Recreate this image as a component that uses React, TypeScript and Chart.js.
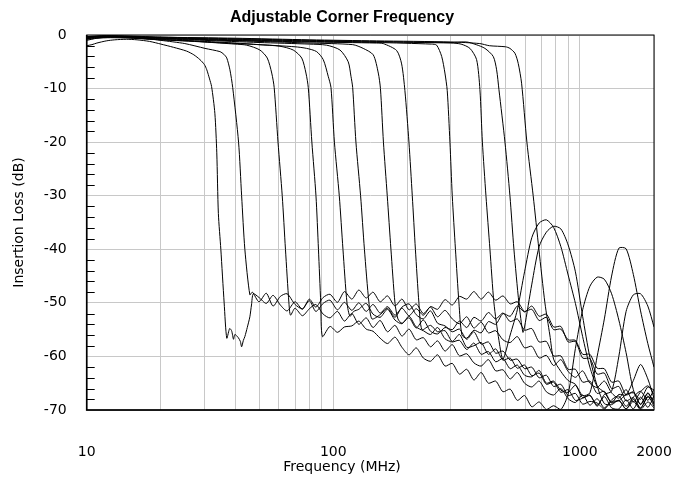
import React, { useEffect, useRef } from "react";
import { Chart, registerables } from "chart.js";

Chart.register(...registerables);

// ---------- data ----------
const xGridValues = [10, 20, 30, 40, 50, 60, 70, 80, 90, 100, 200, 300, 400, 500, 600, 700, 800, 900, 1000, 2000];
const xLabelValues = [10, 100, 1000, 2000];
const yMinorTicks = [-2, -4, -6, -8, -12, -14, -16, -18, -22, -24, -26, -28, -32, -34, -36, -38, -42, -44, -46, -48, -52, -54, -56, -58, -62, -64, -66, -68];

// shared stop-band frequency grid (MHz)
const freqGrid = [36, 38.5, 41, 44, 47, 50, 53.5, 57, 61, 65, 70, 75, 80, 85, 91, 97, 104, 111, 119, 127, 136, 145, 155, 166, 178, 190, 203, 217, 232, 248, 265, 284, 304, 325, 348, 372, 398, 426, 456, 488, 522, 558, 597, 639, 684, 732, 783, 838, 897, 960, 1027, 1099, 1176, 1258, 1346, 1440, 1541, 1649, 1764, 1888, 2000];

// pass band + transition of each filter setting: [MHz, dB]
const edge34: [number, number][] = [[10, -2.0], [10.5, -1.8], [11, -1.5], [12, -1.1], [13, -0.9], [14.5, -0.8], [16, -0.9], [18, -1.2], [20, -1.7], [22.5, -2.3], [25.4, -3.0], [27.2, -3.7], [28.8, -4.6], [30, -5.5], [30.7, -6.5], [31.5, -8.2], [32.1, -9.6], [33.1, -14.6], [33.7, -22], [34.2, -33.3], [35.0, -40], [36.1, -50], [37.0, -56.6], [38.0, -54.8], [38.7, -55.2], [39.4, -56.8], [39.9, -55.9], [41.2, -56.5], [42.0, -57.2], [42.5, -58.2], [43.2, -57.0], [43.8, -56.3], [44.8, -54.6], [45.9, -52.6], [46.6, -50.4], [47.4, -48.3]];
const edge42: [number, number][] = [[10, -1.0], [11, -0.6], [12, -0.4], [13.5, -0.3], [15, -0.5], [17.5, -0.7], [20, -1.0], [25, -1.6], [30.2, -2.5], [34.7, -3.1], [36, -3.6], [37, -4.3], [38.1, -6.5], [39.1, -9.8], [41.3, -20], [42.5, -30], [43.8, -40], [45.9, -48.5]];
const edge62: [number, number][] = [[10, -0.6], [11, -0.4], [12, -0.3], [14, -0.3], [16, -0.5], [20, -0.8], [25, -1.0], [30, -1.3], [40, -1.7], [44.6, -1.9], [50.4, -2.8], [54.0, -4.3], [56.3, -7.1], [57.6, -9.8], [59.7, -20], [62.1, -30], [64.0, -40], [66.1, -50], [67.1, -52.3]];
const edge85: [number, number][] = [[10, -0.4], [11.5, -0.2], [13, -0.3], [15, -0.5], [20, -0.9], [30, -1.2], [40, -1.5], [50, -1.8], [60.8, -2.1], [68.8, -2.8], [74.5, -4.3], [77.5, -7.1], [79.2, -9.8], [81.9, -20], [85.1, -30], [87.1, -40], [89.0, -50], [90.4, -56.3]];
const edge106: [number, number][] = [[10, -0.8], [11, -0.6], [12.5, -0.5], [15, -0.6], [20, -0.9], [30, -1.3], [50, -1.8], [70, -2.2], [78.0, -2.5], [85.6, -3.1], [91.1, -4.6], [95.4, -7.7], [97.9, -9.8], [101.1, -20], [105.8, -30], [109.5, -40], [113.7, -50], [116.9, -52.5], [121, -51.6]];
const edge129: [number, number][] = [[10, -0.5], [11, -0.3], [13, -0.4], [16, -0.5], [20, -0.7], [30, -1.0], [50, -1.4], [80, -1.7], [94.0, -1.9], [106.5, -2.8], [115.0, -5.0], [118.0, -7.7], [119.9, -9.8], [123.6, -20], [129.1, -30], [133.8, -40], [139.6, -50], [143.6, -53]];
const edge166: [number, number][] = [[10, -0.3], [12, -0.2], [14, -0.3], [20, -0.6], [30, -0.9], [50, -1.2], [80, -1.5], [120, -1.8], [132.3, -2.5], [145.3, -3.7], [152.3, -7.1], [155.4, -10], [159.8, -20], [165.6, -30], [171.4, -40], [178.0, -50], [183.0, -53]];
const edge209: [number, number][] = [[10, -0.7], [11, -0.5], [13, -0.4], [16, -0.5], [20, -0.6], [40, -1.0], [80, -1.3], [150, -1.5], [159.5, -1.6], [180.8, -2.9], [189.4, -5.4], [195.3, -10.4], [202.8, -20], [209.2, -30], [215.4, -40], [222.6, -50], [229.0, -55]];
const edge304: [number, number][] = [[10, -0.5], [11, -0.3], [12, -0.2], [15, -0.3], [20, -0.5], [40, -0.9], [80, -1.2], [150, -1.4], [250, -1.7], [262.7, -1.9], [275.3, -4], [283.8, -7.1], [290.0, -10.4], [297.4, -20], [303.9, -30], [313.1, -40], [323.5, -50], [332.7, -56]];
const edge416: [number, number][] = [[10, -0.6], [11, -0.4], [13, -0.3], [16, -0.4], [20, -0.5], [40, -0.8], [80, -1.1], [150, -1.3], [300, -1.5], [330, -1.7], [358.5, -2.5], [381.5, -4.6], [393.5, -10.2], [402.7, -20], [416.3, -30], [432.1, -40], [448.5, -50], [470.0, -57]];
const edge521: [number, number][] = [[10, -0.4], [11, -0.3], [13, -0.2], [16, -0.3], [20, -0.4], [40, -0.7], [80, -1.0], [150, -1.2], [300, -1.4], [347.5, -1.3], [380, -1.8], [412.4, -2.5], [445.6, -4], [459.9, -6.5], [470, -10.2], [497.2, -20], [520.8, -30], [540.6, -40], [566.3, -50], [587.9, -55.5]];
const edge647: [number, number][] = [[10, -0.3], [11, -0.2], [12, -0.1], [15, -0.2], [20, -0.4], [40, -0.6], [80, -0.9], [150, -1.1], [300, -1.3], [393, -1.6], [430, -2.0], [500, -2.2], [520.8, -2.5], [545.6, -3.4], [562.7, -5.3], [580.7, -9], [610.2, -20], [647.1, -30], [682.6, -40], [722, -50], [756, -56]];

// stop band of each setting, dB on the last points of freqGrid (ending at 2000 MHz)
const floor34 = [-49.0, -50.1, -48.6, -50.4, -51.5, -49.8, -51.2, -49.3, -50.8, -49.0, -48.4, -49.9, -47.9, -49.3, -47.6, -49.1, -48.0, -49.8, -48.7, -50.6, -49.3, -51.3, -50.2, -52.0, -50.8, -52.6, -51.4, -53.0, -53.9, -52.6, -54.7, -53.6, -55.6, -55.2, -56.9, -57.4, -56.3, -58.4, -58.1, -60.3, -59.8, -61.7, -60.6, -62.8, -63.9, -62.7, -65.0, -65.8, -64.6, -66.8, -67.8, -66.2, -68.5, -66.6, -65.5, -67.1];
const floor42 = [-48.0, -49.8, -48.2, -50.6, -48.8, -48.3, -50.3, -51.1, -49.6, -51.6, -50.1, -49.5, -51.3, -49.9, -51.4, -50.0, -51.6, -50.3, -51.9, -50.7, -52.3, -51.0, -52.4, -51.1, -52.3, -50.7, -51.2, -49.4, -50.4, -48.8, -49.3, -47.9, -49.3, -48.0, -49.5, -48.7, -50.2, -49.8, -51.6, -51.2, -53.3, -52.7, -55.0, -54.9, -56.9, -57.0, -59.6, -59.6, -62.2, -62.3, -64.8, -64.6, -67.2, -66.6, -69.0, -66.9, -68.9];
const floor62 = [-51.0, -52.4, -51.1, -50.3, -52.1, -52.8, -51.6, -53.4, -52.0, -54.0, -52.8, -54.6, -53.3, -55.4, -54.2, -56.2, -54.9, -56.9, -56.5, -58.2, -57.1, -59.0, -57.8, -59.9, -59.5, -61.2, -61.8, -60.6, -62.7, -62.5, -64.2, -63.0, -65.0, -65.7, -64.6, -66.6, -67.2, -66.0, -67.9, -68.6, -67.2, -69.1, -67.9, -69.6, -68.1, -67.4, -69.3, -67.6, -66.5, -68.2, -66.1];
const floor85 = [-54.4, -55.5, -54.5, -54.3, -53.4, -54.9, -55.3, -56.6, -57.6, -56.4, -58.3, -59.7, -58.4, -60.3, -60.9, -59.7, -61.8, -61.3, -63.3, -62.4, -64.4, -63.0, -65.0, -64.6, -66.6, -66.1, -68.2, -67.3, -69.4, -68.5, -69.9, -69.2, -69.9, -67.0, -58.5, -51.3, -46.9, -45.2, -45.6, -48.3, -53.2, -59.3, -66.2, -68.9, -66.8, -68.7];
const floor106 = [-51.2, -50.1, -52.1, -52.7, -51.2, -53.2, -53.9, -52.5, -54.5, -55.2, -55.9, -54.6, -56.7, -57.3, -57.0, -58.7, -57.5, -59.6, -59.1, -61.0, -60.4, -62.3, -61.6, -63.5, -63.8, -62.6, -65.0, -64.6, -66.3, -66.7, -65.4, -67.7, -67.3, -69.1, -67.5, -69.6, -69.8, -68.1, -69.8, -67.6, -69.5, -67.3];
const floor129 = [-52.2, -51.0, -52.7, -50.8, -50.2, -52.2, -53.0, -51.5, -53.8, -54.3, -55.4, -54.9, -56.8, -55.4, -57.7, -57.3, -59.4, -59.0, -60.7, -60.5, -62.3, -62.0, -64.0, -63.5, -65.6, -65.2, -67.3, -66.9, -68.9, -68.4, -68.7, -69.8, -68.4, -68.3, -67.1, -66.8, -68.0, -65.7, -66.3];
const floor166 = [-53.8, -52.8, -54.7, -53.2, -55.3, -55.8, -54.6, -55.0, -53.4, -54.6, -52.7, -53.4, -51.8, -53.0, -51.9, -53.5, -53.0, -55.1, -54.8, -57.3, -57.2, -59.9, -59.9, -62.4, -62.4, -64.8, -64.6, -66.9, -66.5, -68.7, -68.2, -69.8, -68.0, -69.7, -67.4, -69.3];
const floor209 = [-54.2, -55.4, -55.2, -57.2, -55.9, -58.3, -58.0, -57.4, -59.6, -58.6, -60.7, -60.3, -62.2, -61.6, -63.6, -63.1, -65.2, -64.8, -66.7, -66.2, -68.2, -67.8, -67.2, -69.3, -67.1, -66.5, -60.0, -51.6, -48.5, -48.3, -50.6, -54.5];
const floor304 = [-56.6, -55.1, -55.6, -53.5, -54.0, -52.0, -52.5, -50.6, -51.7, -50.6, -52.5, -52.1, -54.5, -54.4, -57.3, -57.2, -60.3, -60.4, -63.3, -63.1, -66.0, -65.6, -68.3, -67.7, -69.6, -67.6, -68.0];
const floor416 = [-60.5, -56.0, -51.3, -44.2, -37.8, -35.1, -34.5, -35.9, -39.5, -44.8, -50.1, -56.3, -62.0, -65.6, -66.7, -68.6, -67.1, -67.2, -64.5, -61.5, -64.2, -67.8];
const floor521 = [-54.5, -46.5, -39.5, -36.8, -35.7, -36.2, -39.2, -44.2, -52.5, -60.2, -65.5, -68.8, -69.0, -68.2, -69.8, -68.4, -69.9, -68.5, -69.6];
const floor647 = [-60.5, -62.8, -64.5, -65.2, -67.3, -66.8, -60.0, -53.0, -45.0, -39.8, -39.9, -44.7, -51.5, -57.6, -62.0];

const curveSets: { name: string; edge: [number, number][]; floor: number[] }[] = [
  { name: "34 MHz", edge: edge34, floor: floor34 },
  { name: "42 MHz", edge: edge42, floor: floor42 },
  { name: "62 MHz", edge: edge62, floor: floor62 },
  { name: "85 MHz", edge: edge85, floor: floor85 },
  { name: "106 MHz", edge: edge106, floor: floor106 },
  { name: "129 MHz", edge: edge129, floor: floor129 },
  { name: "166 MHz", edge: edge166, floor: floor166 },
  { name: "209 MHz", edge: edge209, floor: floor209 },
  { name: "304 MHz", edge: edge304, floor: floor304 },
  { name: "416 MHz", edge: edge416, floor: floor416 },
  { name: "521 MHz", edge: edge521, floor: floor521 },
  { name: "647 MHz", edge: edge647, floor: floor647 },
];

const TICK_FONT = "'DejaVu Sans', sans-serif";
const TITLE_FONT = "'Liberation Sans', Arial, sans-serif";

function buildPoints(edge: [number, number][], floor: number[]) {
  const pts = edge.map(([x, y]) => ({ x, y }));
  const lastX = edge[edge.length - 1][0];
  const start = freqGrid.length - floor.length;
  floor.forEach((y, i) => {
    const x = freqGrid[start + i];
    if (x > lastX) pts.push({ x, y });
  });
  return pts;
}

const framePlugin = {
  id: "frameAndMinorTicks",
  afterDatasetsDraw(chart: any) {
    const { ctx, chartArea, scales } = chart;
    const { left, right, top, bottom } = chartArea;
    const y = scales.y;
    ctx.save();
    ctx.strokeStyle = "#000";
    ctx.lineWidth = 1;
    for (const v of yMinorTicks) {
      const py = Math.round(y.getPixelForValue(v)) + 0.5;
      ctx.beginPath();
      ctx.moveTo(left, py);
      ctx.lineTo(left + 8, py);
      ctx.stroke();
    }
    ctx.strokeRect(left, top, right - left, bottom - top);
    ctx.lineWidth = 1.6;
    ctx.beginPath();
    ctx.moveTo(left, top);
    ctx.lineTo(left, bottom);
    ctx.lineTo(right, bottom);
    ctx.stroke();
    ctx.restore();
  },
};

export default function App() {
  const ref = useRef<HTMLCanvasElement | null>(null);
  useEffect(() => {
    if (!ref.current) return;
    const datasets = curveSets.map((c) => ({
      label: c.name,
      data: buildPoints(c.edge, c.floor),
      borderColor: "#000",
      borderWidth: 1,
      pointRadius: 0,
      fill: false,
      tension: 0.25,
    }));
    const chart = new Chart(ref.current, {
      type: "line",
      data: { datasets },
      options: {
        animation: false,
        responsive: false,
        devicePixelRatio: 1,
        layout: { padding: { left: 30, right: 22, top: 0, bottom: 0 } },
        plugins: {
          legend: { display: false },
          tooltip: { enabled: false },
          title: {
            display: true,
            text: "Adjustable Corner Frequency",
            color: "#000",
            font: { family: TITLE_FONT, size: 16, weight: "bold" },
            padding: { top: 7.5, bottom: 8.3 },
          },
          subtitle: {
            display: true,
            position: "bottom",
            text: "Frequency (MHz)",
            color: "#000",
            font: { family: TICK_FONT, size: 14 },
            padding: { top: 0, bottom: 5 },
          },
        },
        scales: {
          x: {
            type: "logarithmic",
            min: 10,
            max: 2000,
            afterBuildTicks: (scale: any) => {
              scale.ticks = xGridValues.map((v) => ({ value: v }));
            },
            afterFit: (scale: any) => {
              scale.height = 49.2;
            },
            ticks: {
              autoSkip: false,
              maxRotation: 0,
              padding: 3,
              color: "#000",
              font: { family: TICK_FONT, size: 14 },
              callback: (v: any) => (xLabelValues.includes(Number(v)) ? String(v) : ""),
            },
            grid: { color: "#c8c8c8", lineWidth: 1, drawTicks: true, tickLength: 30.6, tickColor: "rgba(0,0,0,0)" },
            border: { display: false },
          },
          y: {
            type: "linear",
            min: -70,
            max: 0,
            afterFit: (scale: any) => {
              scale.width = 56.7;
            },
            ticks: {
              stepSize: 10,
              padding: 20,
              color: "#000",
              font: { family: TICK_FONT, size: 14 },
            },
            grid: { color: "#c8c8c8", lineWidth: 1, drawTicks: false },
            border: { display: false },
            title: {
              display: true,
              text: "Insertion Loss (dB)",
              color: "#000",
              font: { family: TICK_FONT, size: 14 },
              padding: { top: -19.4, bottom: 0 },
            },
          },
        },
      },
      plugins: [framePlugin],
    });
    return () => chart.destroy();
  }, []);
  return (
    <div style={{ position: "absolute", left: 0, top: 0, width: 676, height: 481 }}>
      <canvas ref={ref} width={676} height={481} />
    </div>
  );
}
